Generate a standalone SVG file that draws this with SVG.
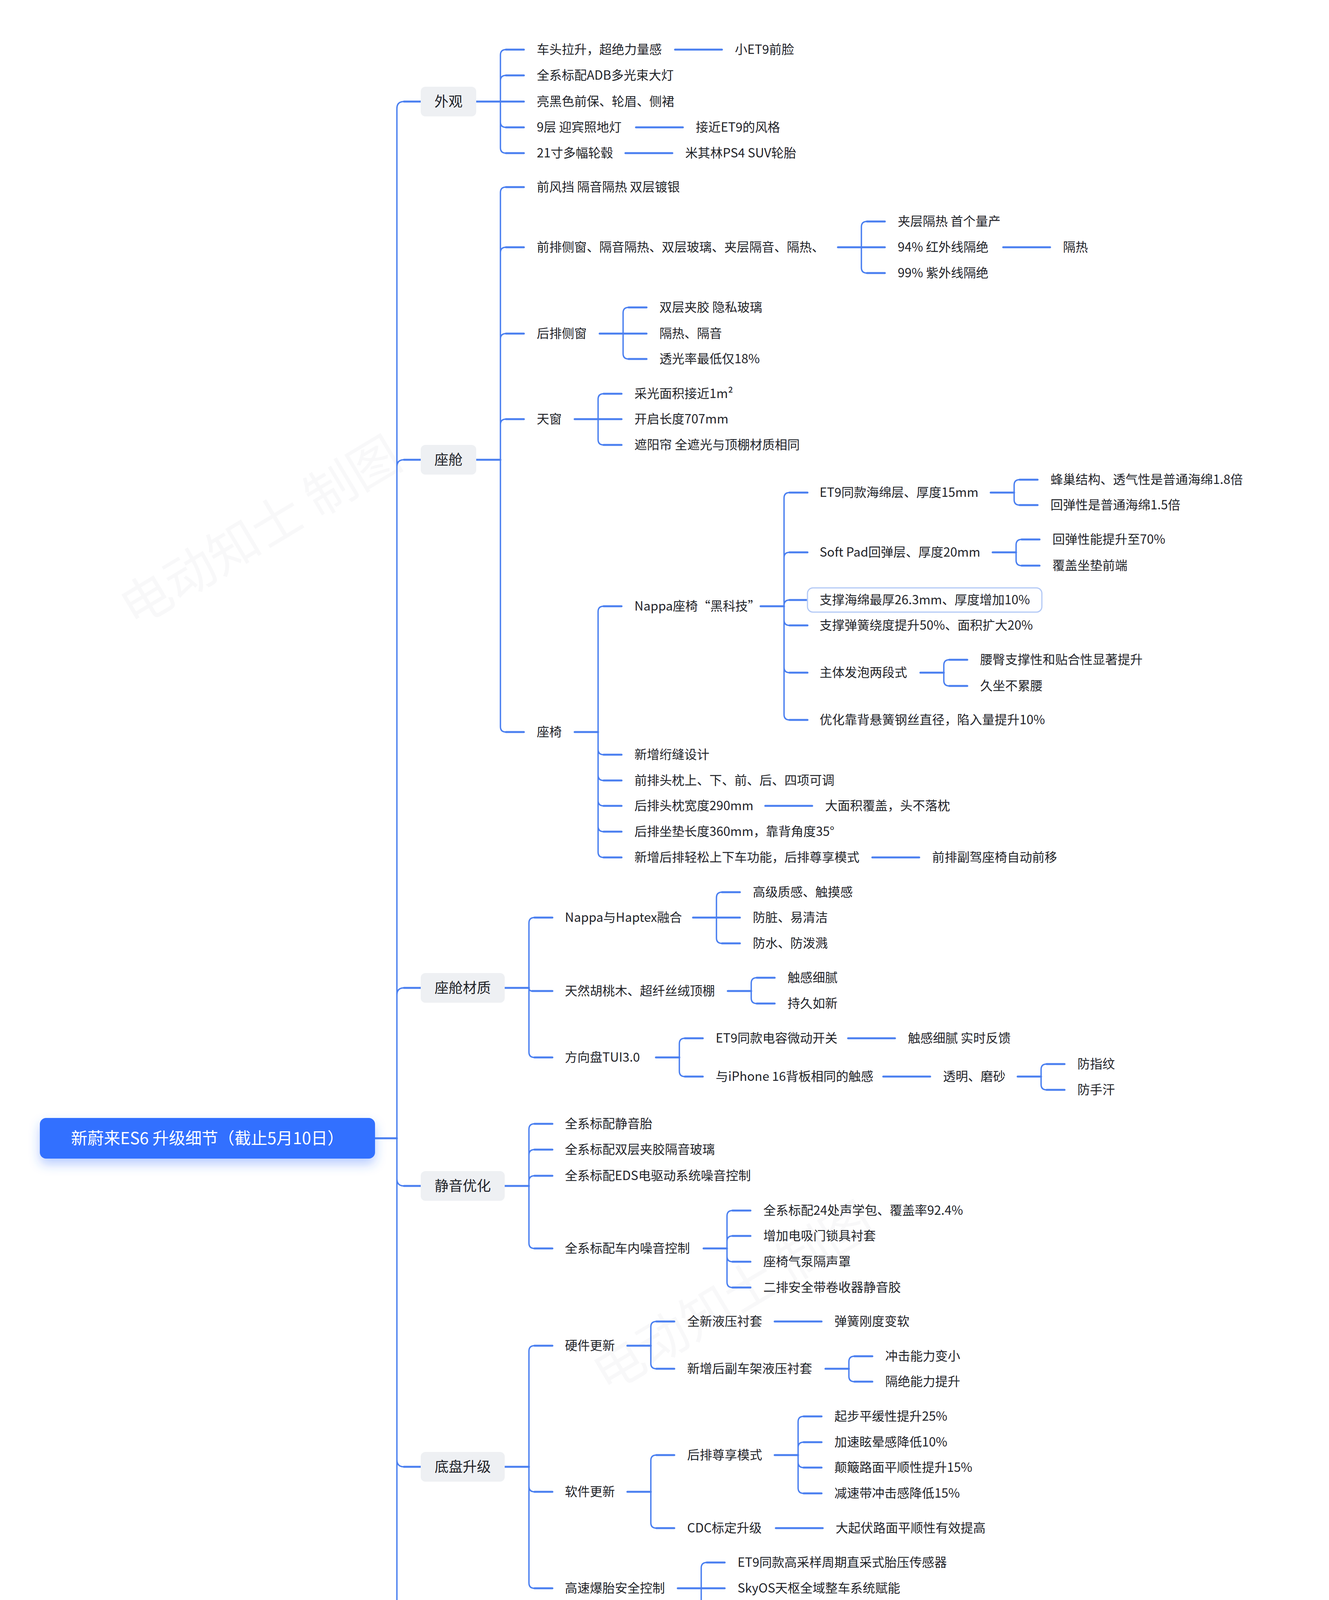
<svg xmlns="http://www.w3.org/2000/svg" width="3402" height="6262" viewBox="0 0 3402 6262">
<defs>
<style>
text { font-family: "Noto Sans CJK SC", "Noto Sans", sans-serif; }
.t { font-size: 32px; fill: #1f2329; }
.h { font-size: 36px; fill: #1f2329; text-anchor: middle; }
.r { font-size: 42px; fill: #ffffff; text-anchor: middle; }
.cv { fill: none; stroke: #4a7ff0; stroke-width: 3.5; stroke-linecap: round; stroke-linejoin: round; }
.hz { fill: none; stroke: #4a7ff0; stroke-width: 5; stroke-linecap: round; }
.b { fill: #eef0f3; }
.w { font-size: 130px; fill: #8a9099; fill-opacity: 0.06; text-anchor: middle; }
</style>
<filter id="sh" x="-20%" y="-50%" width="140%" height="220%">
<feDropShadow dx="0" dy="14" stdDeviation="14" flood-color="#3370ff" flood-opacity="0.35"/>
</filter>
</defs>
<rect x="0" y="0" width="3402" height="6262" fill="#ffffff"/>
<g id="watermarks">
<text class="w" transform="translate(690,1400) rotate(-31)">电动知士 制图</text>
<text class="w" transform="translate(1900,3360) rotate(-31)">电动知士 制图</text>
<text class="w" transform="translate(580,5240) rotate(-31)">电动知士 制图</text>
</g>
<g id="connectors">
<path class="cv" d="M1016,2914 V278 Q1016,260 1034,260 M1016,2914 V1195 Q1016,1177 1034,1177 M1016,2914 V2547 Q1016,2529 1034,2529 M1016,2914 V3018 Q1016,3036 1034,3036 M1016,2914 V3737 Q1016,3755 1034,3755 M1016,2914 V4493 Q1016,4511 1034,4511 M1016,2914 V5549 Q1016,5567 1034,5567"/>
<path class="hz" d="M960,2914 H1016 M1034,260 H1077 M1034,1177 H1077 M1034,2529 H1077 M1034,3036 H1077 M1034,3755 H1077 M1034,4511 H1077 M1034,5567 H1077"/>
<path class="cv" d="M1281,260 V141 Q1281,127 1295,127 M1281,260 V207 Q1281,193 1295,193 M1281,260 V312 Q1281,326 1295,326 M1281,260 V378 Q1281,392 1295,392"/>
<path class="hz" d="M1219,260 H1341 M1295,127 H1341 M1295,193 H1341 M1295,326 H1341 M1295,392 H1341 M1728,127 H1848 M1628,326 H1748 M1601,392 H1721"/>
<path class="cv" d="M1281,1177 V493 Q1281,479 1295,479 M1281,1177 V647 Q1281,633 1295,633 M1281,1177 V868 Q1281,854 1295,854 M1281,1177 V1087 Q1281,1073 1295,1073 M1281,1177 V1860 Q1281,1874 1295,1874"/>
<path class="hz" d="M1219,1177 H1281 M1295,479 H1341 M1295,633 H1341 M1295,854 H1341 M1295,1073 H1341 M1295,1874 H1341"/>
<path class="cv" d="M2205,633 V581 Q2205,567 2219,567 M2205,633 V685 Q2205,699 2219,699"/>
<path class="hz" d="M2145,633 H2265 M2219,567 H2265 M2219,699 H2265 M2568,633 H2688"/>
<path class="cv" d="M1595,854 V801 Q1595,787 1609,787 M1595,854 V905 Q1595,919 1609,919"/>
<path class="hz" d="M1535,854 H1655 M1609,787 H1655 M1609,919 H1655"/>
<path class="cv" d="M1531,1073 V1022 Q1531,1008 1545,1008 M1531,1073 V1125 Q1531,1139 1545,1139"/>
<path class="hz" d="M1471,1073 H1591 M1545,1008 H1591 M1545,1139 H1591"/>
<path class="cv" d="M1531,1874 V1566 Q1531,1552 1545,1552 M1531,1874 V1918 Q1531,1932 1545,1932 M1531,1874 V1984 Q1531,1998 1545,1998 M1531,1874 V2049 Q1531,2063 1545,2063 M1531,1874 V2115 Q1531,2129 1545,2129 M1531,1874 V2181 Q1531,2195 1545,2195"/>
<path class="hz" d="M1471,1874 H1531 M1545,1552 H1591 M1545,1932 H1591 M1545,1998 H1591 M1545,2063 H1591 M1545,2129 H1591 M1545,2195 H1591 M1959,2063 H2079 M2233,2195 H2353"/>
<path class="cv" d="M2007,1552 V1275 Q2007,1261 2021,1261 M2007,1552 V1428 Q2007,1414 2021,1414 M2007,1552 V1550 Q2007,1536 2021,1536 M2007,1552 V1587 Q2007,1601 2021,1601 M2007,1552 V1708 Q2007,1722 2021,1722 M2007,1552 V1829 Q2007,1843 2021,1843"/>
<path class="hz" d="M1947,1552 H2007 M2021,1261 H2067 M2021,1414 H2067 M2021,1536 H2067 M2021,1601 H2067 M2021,1722 H2067 M2021,1843 H2067"/>
<path class="cv" d="M2596,1261 V1242 Q2596,1228 2610,1228 M2596,1261 V1279 Q2596,1293 2610,1293"/>
<path class="hz" d="M2536,1261 H2596 M2610,1228 H2656 M2610,1293 H2656"/>
<path class="cv" d="M2601,1414 V1395 Q2601,1381 2615,1381 M2601,1414 V1434 Q2601,1448 2615,1448"/>
<path class="hz" d="M2541,1414 H2601 M2615,1381 H2661 M2615,1448 H2661"/>
<path class="cv" d="M2416,1722 V1703 Q2416,1689 2430,1689 M2416,1722 V1742 Q2416,1756 2430,1756"/>
<path class="hz" d="M2356,1722 H2416 M2430,1689 H2476 M2430,1756 H2476"/>
<path class="cv" d="M1354,2529 V2363 Q1354,2349 1368,2349 M1354,2529 Q1354,2537 1362,2537 M1354,2529 V2693 Q1354,2707 1368,2707"/>
<path class="hz" d="M1292,2529 H1354 M1368,2349 H1414 M1362,2537 H1414 M1368,2707 H1414"/>
<path class="cv" d="M1834,2349 V2298 Q1834,2284 1848,2284 M1834,2349 V2401 Q1834,2415 1848,2415"/>
<path class="hz" d="M1774,2349 H1894 M1848,2284 H1894 M1848,2415 H1894"/>
<path class="cv" d="M1923,2537 V2517 Q1923,2503 1937,2503 M1923,2537 V2555 Q1923,2569 1937,2569"/>
<path class="hz" d="M1863,2537 H1923 M1937,2503 H1983 M1937,2569 H1983"/>
<path class="cv" d="M1739,2707 V2672 Q1739,2658 1753,2658 M1739,2707 V2742 Q1739,2756 1753,2756"/>
<path class="hz" d="M1679,2707 H1739 M1753,2658 H1799 M1753,2756 H1799 M2171,2658 H2291 M2261,2756 H2381"/>
<path class="cv" d="M2665,2756 V2738 Q2665,2724 2679,2724 M2665,2756 V2776 Q2665,2790 2679,2790"/>
<path class="hz" d="M2605,2756 H2665 M2679,2724 H2725 M2679,2790 H2725"/>
<path class="cv" d="M1354,3036 V2891 Q1354,2877 1368,2877 M1354,3036 V2957 Q1354,2943 1368,2943 M1354,3036 V3024 Q1354,3010 1368,3010 M1354,3036 V3182 Q1354,3196 1368,3196"/>
<path class="hz" d="M1292,3036 H1354 M1368,2877 H1414 M1368,2943 H1414 M1368,3010 H1414 M1368,3196 H1414"/>
<path class="cv" d="M1861,3196 V3113 Q1861,3099 1875,3099 M1861,3196 V3178 Q1861,3164 1875,3164 M1861,3196 V3216 Q1861,3230 1875,3230 M1861,3196 V3282 Q1861,3296 1875,3296"/>
<path class="hz" d="M1801,3196 H1861 M1875,3099 H1921 M1875,3164 H1921 M1875,3230 H1921 M1875,3296 H1921"/>
<path class="cv" d="M1354,3755 V3459 Q1354,3445 1368,3445 M1354,3755 V3805 Q1354,3819 1368,3819 M1354,3755 V4052 Q1354,4066 1368,4066"/>
<path class="hz" d="M1292,3755 H1354 M1368,3445 H1414 M1368,3819 H1414 M1368,4066 H1414"/>
<path class="cv" d="M1666,3445 V3397 Q1666,3383 1680,3383 M1666,3445 V3490 Q1666,3504 1680,3504"/>
<path class="hz" d="M1606,3445 H1666 M1680,3383 H1726 M1680,3504 H1726 M1983,3383 H2103"/>
<path class="cv" d="M2173,3504 V3486 Q2173,3472 2187,3472 M2173,3504 V3523 Q2173,3537 2187,3537"/>
<path class="hz" d="M2113,3504 H2173 M2187,3472 H2233 M2187,3537 H2233"/>
<path class="cv" d="M1666,3819 V3739 Q1666,3725 1680,3725 M1666,3819 V3898 Q1666,3912 1680,3912"/>
<path class="hz" d="M1606,3819 H1666 M1680,3725 H1726 M1680,3912 H1726 M1986,3912 H2106"/>
<path class="cv" d="M2043,3725 V3640 Q2043,3626 2057,3626 M2043,3725 V3706 Q2043,3692 2057,3692 M2043,3725 V3743 Q2043,3757 2057,3757 M2043,3725 V3809 Q2043,3823 2057,3823"/>
<path class="hz" d="M1983,3725 H2043 M2057,3626 H2103 M2057,3692 H2103 M2057,3757 H2103 M2057,3823 H2103"/>
<path class="cv" d="M1795,4066 V4014 Q1795,4000 1809,4000 M1795,4066 V4118 Q1795,4132 1809,4132"/>
<path class="hz" d="M1735,4066 H1855 M1809,4000 H1855 M1809,4132 H1855"/>
<path class="cv" d="M1319,4511 V4366 Q1319,4352 1333,4352 M1319,4511 V4657 Q1319,4671 1333,4671"/>
<path class="hz" d="M1254,4511 H1319 M1333,4352 H1379 M1333,4671 H1379"/>
<path class="cv" d="M1880,4352 V4233 Q1880,4219 1894,4219 M1880,4352 V4299 Q1880,4285 1894,4285 M1880,4352 V4404 Q1880,4418 1894,4418 M1880,4352 V4470 Q1880,4484 1894,4484"/>
<path class="hz" d="M1820,4352 H1940 M1894,4219 H1940 M1894,4285 H1940 M1894,4418 H1940 M1894,4484 H1940 M2199,4484 H2319"/>
<path class="cv" d="M1761,4671 V4586 Q1761,4572 1775,4572 M1761,4671 V4652 Q1761,4638 1775,4638 M1761,4671 V4690 Q1761,4704 1775,4704 M1761,4671 V4755 Q1761,4769 1775,4769"/>
<path class="hz" d="M1701,4671 H1761 M1775,4572 H1821 M1775,4638 H1821 M1775,4704 H1821 M1775,4769 H1821"/>
<path class="cv" d="M1319,5567 V5048 Q1319,5034 1333,5034 M1319,5567 V5346 Q1319,5332 1333,5332 M1319,5567 V5499 Q1319,5485 1333,5485 M1319,5567 V5592 Q1319,5606 1333,5606 M1319,5567 V5807 Q1319,5821 1333,5821 M1319,5567 V6087 Q1319,6101 1333,6101"/>
<path class="hz" d="M1254,5567 H1319 M1333,5034 H1379 M1333,5332 H1379 M1333,5485 H1379 M1333,5606 H1379 M1333,5821 H1379 M1333,6101 H1379"/>
<path class="cv" d="M1695,5034 V4937 Q1695,4923 1709,4923 M1695,5034 V5129 Q1695,5143 1709,5143"/>
<path class="hz" d="M1635,5034 H1695 M1709,4923 H1755 M1709,5143 H1755"/>
<path class="cv" d="M2139,4923 V4871 Q2139,4857 2153,4857 M2139,4923 V4975 Q2139,4989 2153,4989"/>
<path class="hz" d="M2079,4923 H2199 M2153,4857 H2199 M2153,4989 H2199 M2664,4857 H2784 M2471,4989 H2591"/>
<path class="cv" d="M2105,5143 V5091 Q2105,5077 2119,5077 M2105,5143 V5195 Q2105,5209 2119,5209"/>
<path class="hz" d="M2045,5143 H2165 M2119,5077 H2165 M2119,5209 H2165 M2441,5209 H2561 M2913,5209 H3033"/>
<path class="cv" d="M1807,5332 V5312 Q1807,5298 1821,5298 M1807,5332 V5352 Q1807,5366 1821,5366"/>
<path class="hz" d="M1747,5332 H1807 M1821,5298 H1867 M1821,5366 H1867"/>
<path class="cv" d="M1684,5485 V5465 Q1684,5451 1698,5451 M1684,5485 V5503 Q1684,5517 1698,5517"/>
<path class="hz" d="M1624,5485 H1684 M1698,5451 H1744 M1698,5517 H1744 M2017,5517 H2137"/>
<path class="cv" d="M1720,5821 V5707 Q1720,5693 1734,5693 M1720,5821 V5774 Q1720,5760 1734,5760 M1720,5821 Q1720,5826 1725,5826 M1720,5821 V5933 Q1720,5947 1734,5947"/>
<path class="hz" d="M1660,5821 H1720 M1734,5693 H1780 M1734,5760 H1780 M1725,5826 H1780 M1734,5947 H1780 M2179,5760 H2299 M2152,5826 H2272"/>
<path class="cv" d="M2197,5947 V5927 Q2197,5913 2211,5913 M2197,5947 V5965 Q2197,5979 2211,5979"/>
<path class="hz" d="M2137,5947 H2197 M2211,5913 H2257 M2211,5979 H2257"/>
<path class="cv" d="M1889,6101 V6081 Q1889,6067 1903,6067 M1889,6101 V6119 Q1889,6133 1903,6133"/>
<path class="hz" d="M1829,6101 H1889 M1903,6067 H1949 M1903,6133 H1949"/>
</g>
<g id="root">
<rect x="102" y="2862" width="858" height="104" rx="16" fill="#3370ff" filter="url(#sh)"/>
<text class="r" x="531" y="2929">新蔚来ES6 升级细节（截止5月10日）</text>
</g>
<g id="l1-waiguan"><rect class="b" x="1077" y="222" width="142" height="76" rx="12"/><text class="h" x="1148" y="273">外观</text></g>
<g id="l1-zuocang"><rect class="b" x="1077" y="1139" width="142" height="76" rx="12"/><text class="h" x="1148" y="1190">座舱</text></g>
<g id="l1-caizhi"><rect class="b" x="1077" y="2491" width="215" height="76" rx="12"/><text class="h" x="1184.5" y="2542">座舱材质</text></g>
<g id="l1-jingyin"><rect class="b" x="1077" y="2998" width="215" height="76" rx="12"/><text class="h" x="1184.5" y="3049">静音优化</text></g>
<g id="l1-dipan"><rect class="b" x="1077" y="3717" width="215" height="76" rx="12"/><text class="h" x="1184.5" y="3768">底盘升级</text></g>
<g id="l1-fenwei"><rect class="b" x="1077" y="4473" width="177" height="76" rx="12"/><text class="h" x="1165.5" y="4524">氛围感</text></g>
<g id="l1-zhineng"><rect class="b" x="1077" y="5529" width="177" height="76" rx="12"/><text class="h" x="1165.5" y="5580">智能化</text></g>
<g id="n-highlight"><rect x="2067" y="1505" width="600" height="62" rx="14" fill="#ffffff" stroke="#b3c9f6" stroke-width="3"/><text class="t" x="2098" y="1547">支撑海绵最厚26.3mm、厚度增加10%</text></g>
<g id="nodes">
<g id="n1"><text class="t" x="1374" y="138">车头拉升，超绝力量感</text></g>
<g id="n2"><text class="t" x="1881" y="138">小ET9前脸</text></g>
<g id="n3"><text class="t" x="1374" y="204">全系标配ADB多光束大灯</text></g>
<g id="n4"><text class="t" x="1374" y="271">亮黑色前保、轮眉、侧裙</text></g>
<g id="n5"><text class="t" x="1374" y="337">9层 迎宾照地灯</text></g>
<g id="n6"><text class="t" x="1781" y="337">接近ET9的风格</text></g>
<g id="n7"><text class="t" x="1374" y="403">21寸多幅轮毂</text></g>
<g id="n8"><text class="t" x="1754" y="403">米其林PS4 SUV轮胎</text></g>
<g id="n9"><text class="t" x="1374" y="490">前风挡 隔音隔热 双层镀银</text></g>
<g id="n10"><text class="t" x="1374" y="644">前排侧窗、隔音隔热、双层玻璃、夹层隔音、隔热、</text></g>
<g id="n11"><text class="t" x="2298" y="578">夹层隔热 首个量产</text></g>
<g id="n12"><text class="t" x="2298" y="644">94% 红外线隔绝</text></g>
<g id="n13"><text class="t" x="2721" y="644">隔热</text></g>
<g id="n14"><text class="t" x="2298" y="710">99% 紫外线隔绝</text></g>
<g id="n15"><text class="t" x="1374" y="865">后排侧窗</text></g>
<g id="n16"><text class="t" x="1688" y="798">双层夹胶 隐私玻璃</text></g>
<g id="n17"><text class="t" x="1688" y="865">隔热、隔音</text></g>
<g id="n18"><text class="t" x="1688" y="930">透光率最低仅18%</text></g>
<g id="n19"><text class="t" x="1374" y="1084">天窗</text></g>
<g id="n20"><text class="t" x="1624" y="1019">采光面积接近1m²</text></g>
<g id="n21"><text class="t" x="1624" y="1084">开启长度707mm</text></g>
<g id="n22"><text class="t" x="1624" y="1150">遮阳帘 全遮光与顶棚材质相同</text></g>
<g id="n23"><text class="t" x="1374" y="1885">座椅</text></g>
<g id="n24"><text class="t" x="1624" y="1563">Nappa座椅“黑科技”</text></g>
<g id="n25"><text class="t" x="2098" y="1272">ET9同款海绵层、厚度15mm</text></g>
<g id="n26"><text class="t" x="2689" y="1239">蜂巢结构、透气性是普通海绵1.8倍</text></g>
<g id="n27"><text class="t" x="2689" y="1304">回弹性是普通海绵1.5倍</text></g>
<g id="n28"><text class="t" x="2098" y="1425">Soft Pad回弹层、厚度20mm</text></g>
<g id="n29"><text class="t" x="2694" y="1392">回弹性能提升至70%</text></g>
<g id="n30"><text class="t" x="2694" y="1459">覆盖坐垫前端</text></g>
<g id="n31"><text class="t" x="2098" y="1612">支撑弹簧绕度提升50%、面积扩大20%</text></g>
<g id="n32"><text class="t" x="2098" y="1733">主体发泡两段式</text></g>
<g id="n33"><text class="t" x="2509" y="1700">腰臀支撑性和贴合性显著提升</text></g>
<g id="n34"><text class="t" x="2509" y="1767">久坐不累腰</text></g>
<g id="n35"><text class="t" x="2098" y="1854">优化靠背悬簧钢丝直径，陷入量提升10%</text></g>
<g id="n36"><text class="t" x="1624" y="1943">新增绗缝设计</text></g>
<g id="n37"><text class="t" x="1624" y="2009">前排头枕上、下、前、后、四项可调</text></g>
<g id="n38"><text class="t" x="1624" y="2074">后排头枕宽度290mm</text></g>
<g id="n39"><text class="t" x="2112" y="2074">大面积覆盖，头不落枕</text></g>
<g id="n40"><text class="t" x="1624" y="2140">后排坐垫长度360mm，靠背角度35°</text></g>
<g id="n41"><text class="t" x="1624" y="2206">新增后排轻松上下车功能，后排尊享模式</text></g>
<g id="n42"><text class="t" x="2386" y="2206">前排副驾座椅自动前移</text></g>
<g id="n43"><text class="t" x="1446" y="2360">Nappa与Haptex融合</text></g>
<g id="n44"><text class="t" x="1927" y="2295">高级质感、触摸感</text></g>
<g id="n45"><text class="t" x="1927" y="2360">防脏、易清洁</text></g>
<g id="n46"><text class="t" x="1927" y="2426">防水、防泼溅</text></g>
<g id="n47"><text class="t" x="1446" y="2548">天然胡桃木、超纤丝绒顶棚</text></g>
<g id="n48"><text class="t" x="2016" y="2514">触感细腻</text></g>
<g id="n49"><text class="t" x="2016" y="2580">持久如新</text></g>
<g id="n50"><text class="t" x="1446" y="2718">方向盘TUI3.0</text></g>
<g id="n51"><text class="t" x="1832" y="2669">ET9同款电容微动开关</text></g>
<g id="n52"><text class="t" x="2324" y="2669">触感细腻 实时反馈</text></g>
<g id="n53"><text class="t" x="1832" y="2767">与iPhone 16背板相同的触感</text></g>
<g id="n54"><text class="t" x="2414" y="2767">透明、磨砂</text></g>
<g id="n55"><text class="t" x="2758" y="2735">防指纹</text></g>
<g id="n56"><text class="t" x="2758" y="2801">防手汗</text></g>
<g id="n57"><text class="t" x="1446" y="2888">全系标配静音胎</text></g>
<g id="n58"><text class="t" x="1446" y="2954">全系标配双层夹胶隔音玻璃</text></g>
<g id="n59"><text class="t" x="1446" y="3021">全系标配EDS电驱动系统噪音控制</text></g>
<g id="n60"><text class="t" x="1446" y="3207">全系标配车内噪音控制</text></g>
<g id="n61"><text class="t" x="1954" y="3110">全系标配24处声学包、覆盖率92.4%</text></g>
<g id="n62"><text class="t" x="1954" y="3175">增加电吸门锁具衬套</text></g>
<g id="n63"><text class="t" x="1954" y="3241">座椅气泵隔声罩</text></g>
<g id="n64"><text class="t" x="1954" y="3307">二排安全带卷收器静音胶</text></g>
<g id="n65"><text class="t" x="1446" y="3456">硬件更新</text></g>
<g id="n66"><text class="t" x="1759" y="3394">全新液压衬套</text></g>
<g id="n67"><text class="t" x="2136" y="3394">弹簧刚度变软</text></g>
<g id="n68"><text class="t" x="1759" y="3515">新增后副车架液压衬套</text></g>
<g id="n69"><text class="t" x="2266" y="3483">冲击能力变小</text></g>
<g id="n70"><text class="t" x="2266" y="3548">隔绝能力提升</text></g>
<g id="n71"><text class="t" x="1446" y="3830">软件更新</text></g>
<g id="n72"><text class="t" x="1759" y="3736">后排尊享模式</text></g>
<g id="n73"><text class="t" x="2136" y="3637">起步平缓性提升25%</text></g>
<g id="n74"><text class="t" x="2136" y="3703">加速眩晕感降低10%</text></g>
<g id="n75"><text class="t" x="2136" y="3768">颠簸路面平顺性提升15%</text></g>
<g id="n76"><text class="t" x="2136" y="3834">减速带冲击感降低15%</text></g>
<g id="n77"><text class="t" x="1759" y="3923">CDC标定升级</text></g>
<g id="n78"><text class="t" x="2139" y="3923">大起伏路面平顺性有效提高</text></g>
<g id="n79"><text class="t" x="1446" y="4077">高速爆胎安全控制</text></g>
<g id="n80"><text class="t" x="1888" y="4011">ET9同款高采样周期直采式胎压传感器</text></g>
<g id="n81"><text class="t" x="1888" y="4077">SkyOS天枢全域整车系统赋能</text></g>
<g id="n82"><text class="t" x="1888" y="4143">130kph 爆胎控稳</text></g>
<g id="n83"><text class="t" x="1413" y="4363">23扬声器 7.1.4 杜比全景式</text></g>
<g id="n84"><text class="t" x="1973" y="4230">20路1000w功率输出</text></g>
<g id="n85"><text class="t" x="1973" y="4296">更大尺寸低音扬声器单元</text></g>
<g id="n86"><text class="t" x="1973" y="4363">前门低音扬声器功率提升30W至60W</text></g>
<g id="n87"><text class="t" x="1973" y="4429">杜比全景声+Dirac Pro空间声学算法</text></g>
<g id="n88"><text class="t" x="1973" y="4495">调音软件升级</text></g>
<g id="n89"><text class="t" x="2352" y="4495">接近ET9天琴的音效</text></g>
<g id="n90"><text class="t" x="1413" y="4682">环绕式光瀑氛围灯</text></g>
<g id="n91"><text class="t" x="1854" y="4583">上层灯带混色与下层灯带混合</text></g>
<g id="n92"><text class="t" x="1854" y="4649">可实现近1678万种颜色组合</text></g>
<g id="n93"><text class="t" x="1854" y="4715">提供9种搭配好的色彩主题</text></g>
<g id="n94"><text class="t" x="1854" y="4780">新增艺境空间主题，将数字世界与车的内饰融为一体</text></g>
<g id="n95"><text class="t" x="1413" y="5045">神玑安全影像</text></g>
<g id="n96"><text class="t" x="1788" y="4934">外后视镜补盲影像</text></g>
<g id="n97"><text class="t" x="2232" y="4868">复用两侧8M辅助驾驶摄像头</text></g>
<g id="n98"><text class="t" x="2817" y="4868">F1.46 超大光圈</text></g>
<g id="n99"><text class="t" x="2232" y="4934">6倍物理后视镜视野</text></g>
<g id="n100"><text class="t" x="2232" y="5000">ISP软硬件调光</text></g>
<g id="n101"><text class="t" x="2624" y="5000">雨天、夜晚依旧清晰</text></g>
<g id="n102"><text class="t" x="1788" y="5154">内流媒体后视镜</text></g>
<g id="n103"><text class="t" x="2198" y="5088">复用8M后辅助驾驶摄像头</text></g>
<g id="n104"><text class="t" x="2198" y="5154">3.6倍物理后视镜视野</text></g>
<g id="n105"><text class="t" x="2198" y="5220">ISP软硬件调光</text></g>
<g id="n106"><text class="t" x="2594" y="5220">雨天、夜晚依旧清晰</text></g>
<g id="n107"><text class="t" x="3066" y="5220">F1.46 超大光圈</text></g>
<g id="n108"><text class="t" x="1413" y="5343">19.4英寸超大W-HUD</text></g>
<g id="n109"><text class="t" x="1900" y="5309">超大视野</text></g>
<g id="n110"><text class="t" x="1900" y="5377">可同时显示 EID、导航、补盲影像</text></g>
<g id="n111"><text class="t" x="1413" y="5496">神玑NX9031</text></g>
<g id="n112"><text class="t" x="1777" y="5462">AI算力 一颗顶四颗 Orin X</text></g>
<g id="n113"><text class="t" x="1777" y="5528">NWM世界模型</text></g>
<g id="n114"><text class="t" x="2170" y="5528">新车上市后 很快OTA推送</text></g>
<g id="n115"><text class="t" x="1413" y="5617">全域操作系统「SkyOS·天枢」</text></g>
<g id="n116"><text class="t" x="1413" y="5832">NOMI Mate 3.0</text></g>
<g id="n117"><text class="t" x="1813" y="5704">语音交互+动作表达</text></g>
<g id="n118"><text class="t" x="1813" y="5771">2.5D一体化玻璃 防指纹</text></g>
<g id="n119"><text class="t" x="2332" y="5771">触摸NOMI 有表达</text></g>
<g id="n120"><text class="t" x="1813" y="5837">340° 大范围横向摆幅</text></g>
<g id="n121"><text class="t" x="2305" y="5837">可看向车外</text></g>
<g id="n122"><text class="t" x="1813" y="5958">支持手势、动作互动</text></g>
<g id="n123"><text class="t" x="2290" y="5924">剪刀石头布游戏</text></g>
<g id="n124"><text class="t" x="2290" y="5990">点头、摇头、嘘 下达指令</text></g>
<g id="n125"><text class="t" x="1413" y="6112">融合视觉定位的车道级导航</text></g>
<g id="n126"><text class="t" x="1982" y="6078">变道响应超快、超准</text></g>
<g id="n127"><text class="t" x="1982" y="6144">覆盖全国99%以上的城市和乡镇道路</text></g>
</g>
</svg>
